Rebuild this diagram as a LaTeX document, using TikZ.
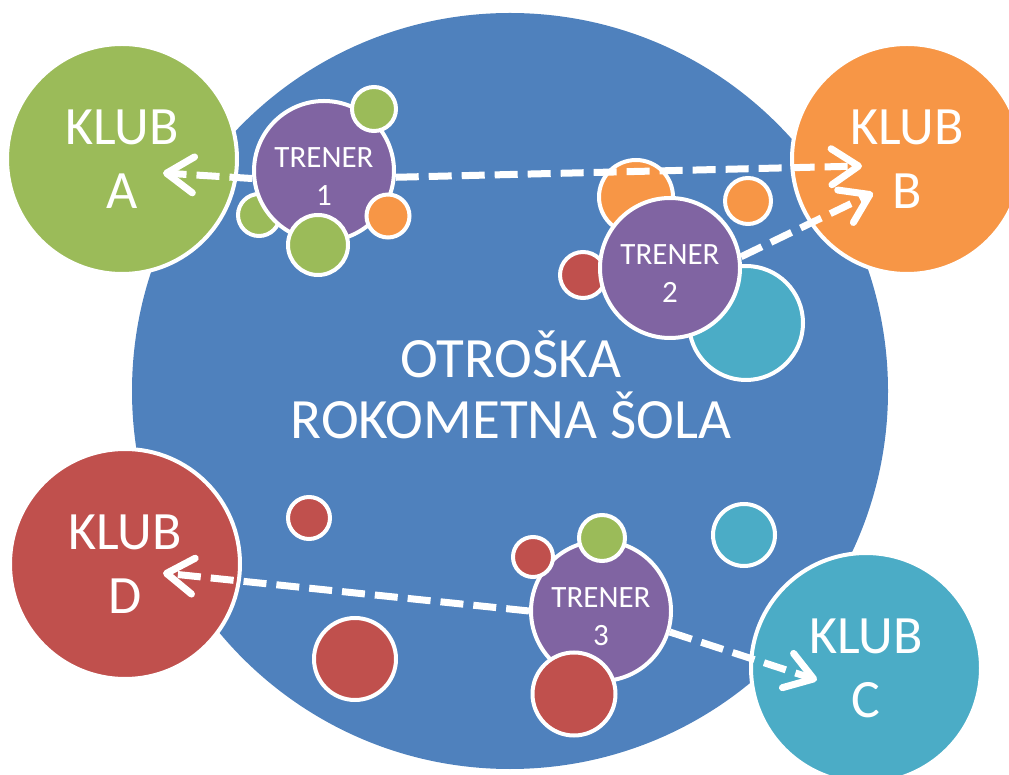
\documentclass[tikz,border=0pt]{standalone}
\usepackage{fontspec}
\setmainfont{Carlito}
\usetikzlibrary{arrows.meta}
\definecolor{modra}{HTML}{4F81BD}
\definecolor{zelena}{HTML}{9BBB59}
\definecolor{oranzna}{HTML}{F79646}
\definecolor{rdeca}{HTML}{C0504D}
\definecolor{turkizna}{HTML}{4BACC6}
\definecolor{vijolicna}{HTML}{8064A2}
\begin{document}
\begin{tikzpicture}[x=1pt, y=1pt,
    krog/.style={circle, draw=white, line width=4pt, inner sep=0pt, text=white},
    klub/.style={krog, minimum size=230pt, align=center,
                 font=\fontsize{54}{64}\selectfont},
    trener/.style={krog, fill=vijolicna, minimum size=140pt, align=center,
                   text height=69pt, font=\fontsize{31}{38}\selectfont},
    pika/.style={krog, minimum size=#1},
    link/.style={draw=white, line width=7pt, dash pattern=on 23pt off 10pt,
                 -{Straight Barb[length=27pt, width=36pt, round]}}]
	\useasboundingbox (0,0) rectangle (1009,774);

	% sola
	\node[circle, fill=modra, minimum size=756pt] (sola) at (510,383) {};
	\node[text=white, align=center, font=\fontsize{57}{61}\selectfont]
		(naslov) at (511,389) {OTROŠKA\\ROKOMETNA ŠOLA};

	% klubi
	\node[klub, fill=zelena]   (ka) at (122,615) {KLUB\\A};
	\node[klub, fill=oranzna]  (kb) at (907,615) {KLUB\\B};
	\node[klub, fill=turkizna] (kc) at (866,106) {KLUB\\C};
	\node[klub, fill=rdeca]    (kd) at (125,210) {KLUB\\D};

	% igralci brez trenerja
	\node[pika=42pt, fill=rdeca]    (p1) at (309,256) {};
	\node[pika=82pt, fill=rdeca]    (p2) at (355,115) {};
	\node[pika=62pt, fill=turkizna] (p3) at (744,239) {};

	% igralci za trenerji
	\node[pika=42pt,  fill=zelena]   (p4) at (259,559) {};
	\node[pika=74pt,  fill=oranzna]  (p5) at (636,577) {};
	\node[pika=46pt,  fill=rdeca]    (p6) at (583,499) {};
	\node[pika=114pt, fill=turkizna] (p7) at (746,451) {};

	% trenerji
	\node[trener] (t1) at (324,603) {TRENER\\1};
	\node[trener] (t2) at (670,506) {TRENER\\2};
	\node[trener] (t3) at (601,163) {TRENER\\3};

	% igralci pred trenerji
	\node[pika=44pt, fill=zelena]  (p8)  at (374,665) {};
	\node[pika=60pt, fill=zelena]  (p9)  at (318,529) {};
	\node[pika=43pt, fill=oranzna] (p10) at (388,558) {};
	\node[pika=46pt, fill=oranzna] (p11) at (748,573) {};
	\node[pika=40pt, fill=rdeca]   (p12) at (533,217) {};
	\node[pika=46pt, fill=zelena]  (p13) at (602,236) {};
	\node[pika=83pt, fill=rdeca]   (p14) at (574,80) {};

	% povezave
	\coordinate (tipA)  at (163,601);
	\coordinate (tipB1) at (862,608);
	\coordinate (tipB2) at (873,581);
	\coordinate (tipC)  at (817,94);
	\coordinate (tipD)  at (163,201);

	\draw[link] (t1.186)  -- (tipA);
	\draw[link] (t1.-5)   -- (tipB1);
	\draw[link] (t2.9)    -- (tipB2);
	\draw[link] (t3.-17)  -- (tipC);
	\draw[link] (t3.west) -- (tipD);

\end{tikzpicture}
\end{document}
